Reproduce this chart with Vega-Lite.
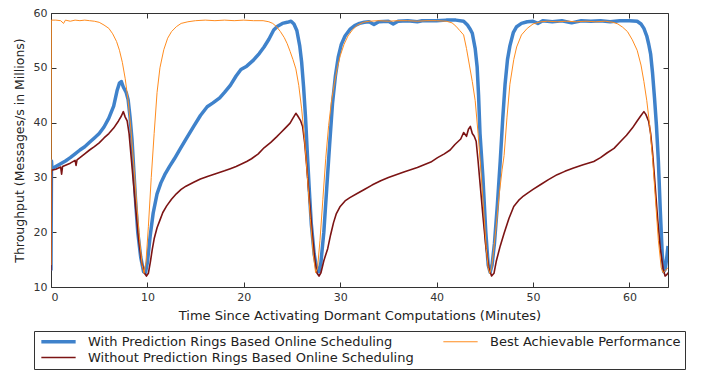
{
  "$schema": "https://vega.github.io/schema/vega-lite/v6.json",
  "width": 617,
  "height": 274,
  "autosize": {"type": "none"},
  "padding": {"left": 51, "top": 13, "right": 34, "bottom": 84},
  "background": "white",
  "config": {
    "view": {"stroke": null},
    "font": "DejaVu Sans",
    "axis": {
      "grid": false,
      "domainColor": "#333333",
      "tickColor": "#333333",
      "tickSize": -5,
      "labelColor": "#333333",
      "titleColor": "#222222",
      "labelFont": "DejaVu Sans",
      "titleFont": "DejaVu Sans",
      "labelFontSize": 11,
      "titleFontSize": 12.5,
      "titleFontWeight": "normal"
    }
  },
  "data": {"values": [
    {"s":"W","t":0,"v":13},{"s":"W","t":0.05,"v":33},{"s":"W","t":0.1,"v":31.5},{"s":"W","t":0.5,"v":32.0},{"s":"W","t":1.0,"v":32.5},{"s":"W","t":1.5,"v":33.0},{"s":"W","t":2.0,"v":33.6},{"s":"W","t":2.5,"v":34.3},{"s":"W","t":3.0,"v":35.0},{"s":"W","t":3.5,"v":35.6},{"s":"W","t":4.0,"v":36.4},{"s":"W","t":4.5,"v":37.2},{"s":"W","t":5.0,"v":38.0},{"s":"W","t":5.5,"v":39.2},{"s":"W","t":6.0,"v":40.8},{"s":"W","t":6.5,"v":43.0},{"s":"W","t":6.85,"v":45.8},{"s":"W","t":7.1,"v":47.2},{"s":"W","t":7.3,"v":47.5},{"s":"W","t":7.5,"v":46.5},{"s":"W","t":7.8,"v":45.5},{"s":"W","t":8.0,"v":44.2},{"s":"W","t":8.2,"v":41},{"s":"W","t":8.4,"v":37},{"s":"W","t":8.6,"v":31},{"s":"W","t":8.8,"v":25},{"s":"W","t":9.0,"v":20},{"s":"W","t":9.3,"v":15.5},{"s":"W","t":9.6,"v":12.8},{"s":"W","t":9.8,"v":12.6},{"s":"W","t":10.0,"v":14.5},{"s":"W","t":10.3,"v":19.5},{"s":"W","t":10.6,"v":23.5},{"s":"W","t":11.0,"v":27.0},{"s":"W","t":11.4,"v":29.0},{"s":"W","t":11.8,"v":30.5},{"s":"W","t":12.3,"v":32.0},{"s":"W","t":12.8,"v":33.4},{"s":"W","t":13.4,"v":35.2},{"s":"W","t":14.0,"v":37.0},{"s":"W","t":14.8,"v":39.3},{"s":"W","t":15.5,"v":41.3},{"s":"W","t":16.2,"v":42.9},{"s":"W","t":16.8,"v":43.6},{"s":"W","t":17.5,"v":44.5},{"s":"W","t":18.0,"v":45.5},{"s":"W","t":18.6,"v":46.8},{"s":"W","t":19.2,"v":48.5},{"s":"W","t":19.7,"v":49.7},{"s":"W","t":20.3,"v":50.3},{"s":"W","t":21.0,"v":51.4},{"s":"W","t":21.6,"v":52.6},{"s":"W","t":22.1,"v":53.8},{"s":"W","t":22.6,"v":55.2},{"s":"W","t":23.1,"v":56.9},{"s":"W","t":23.5,"v":57.6},{"s":"W","t":24.0,"v":58.1},{"s":"W","t":24.5,"v":58.3},{"s":"W","t":24.9,"v":58.5},{"s":"W","t":25.2,"v":58.0},{"s":"W","t":25.5,"v":56.8},{"s":"W","t":25.8,"v":54},{"s":"W","t":26.0,"v":51},{"s":"W","t":26.2,"v":46.5},{"s":"W","t":26.4,"v":41},{"s":"W","t":26.6,"v":34},{"s":"W","t":26.8,"v":27.5},{"s":"W","t":27.0,"v":21.5},{"s":"W","t":27.3,"v":16},{"s":"W","t":27.6,"v":13.0},{"s":"W","t":27.8,"v":12.8},{"s":"W","t":28.0,"v":14.5},{"s":"W","t":28.3,"v":20},{"s":"W","t":28.6,"v":28},{"s":"W","t":28.9,"v":36},{"s":"W","t":29.2,"v":43.5},{"s":"W","t":29.5,"v":48.5},{"s":"W","t":29.8,"v":52},{"s":"W","t":30.1,"v":54.2},{"s":"W","t":30.5,"v":55.8},{"s":"W","t":31.0,"v":57.0},{"s":"W","t":31.5,"v":57.7},{"s":"W","t":32.0,"v":58.1},{"s":"W","t":32.5,"v":58.3},{"s":"W","t":33,"v":58.4},{"s":"W","t":33.5,"v":57.9},{"s":"W","t":34,"v":58.4},{"s":"W","t":35,"v":58.5},{"s":"W","t":35.5,"v":58.0},{"s":"W","t":36,"v":58.5},{"s":"W","t":37,"v":58.6},{"s":"W","t":38,"v":58.4},{"s":"W","t":38.5,"v":58.6},{"s":"W","t":39,"v":58.6},{"s":"W","t":40,"v":58.6},{"s":"W","t":41,"v":58.7},{"s":"W","t":42,"v":58.7},{"s":"W","t":42.8,"v":58.5},{"s":"W","t":43.2,"v":57.8},{"s":"W","t":43.5,"v":57.0},{"s":"W","t":43.7,"v":56.3},{"s":"W","t":44.0,"v":53.5},{"s":"W","t":44.2,"v":50.2},{"s":"W","t":44.35,"v":45},{"s":"W","t":44.5,"v":38},{"s":"W","t":44.8,"v":30},{"s":"W","t":45.1,"v":20},{"s":"W","t":45.35,"v":14},{"s":"W","t":45.55,"v":12.7},{"s":"W","t":45.75,"v":14},{"s":"W","t":46.0,"v":18},{"s":"W","t":46.3,"v":25},{"s":"W","t":46.6,"v":33},{"s":"W","t":46.85,"v":40.5},{"s":"W","t":47.1,"v":47},{"s":"W","t":47.35,"v":51.5},{"s":"W","t":47.6,"v":54},{"s":"W","t":47.95,"v":56.4},{"s":"W","t":48.3,"v":57.5},{"s":"W","t":48.8,"v":58.1},{"s":"W","t":49.4,"v":58.4},{"s":"W","t":50,"v":58.5},{"s":"W","t":50.5,"v":58.1},{"s":"W","t":51,"v":58.6},{"s":"W","t":52,"v":58.4},{"s":"W","t":53,"v":58.6},{"s":"W","t":54,"v":58.2},{"s":"W","t":55,"v":58.6},{"s":"W","t":56,"v":58.5},{"s":"W","t":57,"v":58.6},{"s":"W","t":58,"v":58.4},{"s":"W","t":59,"v":58.6},{"s":"W","t":60,"v":58.6},{"s":"W","t":60.8,"v":58.5},{"s":"W","t":61.2,"v":58.0},{"s":"W","t":61.5,"v":57.2},{"s":"W","t":61.8,"v":55.8},{"s":"W","t":62.0,"v":54.3},{"s":"W","t":62.2,"v":52.5},{"s":"W","t":62.4,"v":49},{"s":"W","t":62.6,"v":44.5},{"s":"W","t":62.8,"v":39.5},{"s":"W","t":63.0,"v":33},{"s":"W","t":63.2,"v":24},{"s":"W","t":63.4,"v":16},{"s":"W","t":63.55,"v":12.8},{"s":"W","t":63.7,"v":13.2},{"s":"W","t":63.85,"v":15},{"s":"W","t":64.0,"v":17.5},

    {"s":"O","t":0,"v":13},{"s":"O","t":0.05,"v":31.3},{"s":"O","t":0.5,"v":31.5},{"s":"O","t":1.0,"v":31.9},{"s":"O","t":1.1,"v":30.6},{"s":"O","t":1.2,"v":32.0},{"s":"O","t":2.0,"v":32.6},{"s":"O","t":2.5,"v":33.1},{"s":"O","t":2.6,"v":32.2},{"s":"O","t":2.7,"v":33.2},{"s":"O","t":3.0,"v":33.6},{"s":"O","t":3.5,"v":34.3},{"s":"O","t":4.0,"v":35.0},{"s":"O","t":4.5,"v":35.6},{"s":"O","t":5.0,"v":36.3},{"s":"O","t":5.5,"v":37.2},{"s":"O","t":6.0,"v":38.0},{"s":"O","t":6.5,"v":39.0},{"s":"O","t":7.0,"v":40.3},{"s":"O","t":7.3,"v":41.2},{"s":"O","t":7.5,"v":42.0},{"s":"O","t":7.7,"v":41.0},{"s":"O","t":7.9,"v":40.3},{"s":"O","t":8.1,"v":38},{"s":"O","t":8.3,"v":34},{"s":"O","t":8.5,"v":30},{"s":"O","t":8.8,"v":24},{"s":"O","t":9.1,"v":18.5},{"s":"O","t":9.4,"v":14.5},{"s":"O","t":9.7,"v":12.5},{"s":"O","t":9.9,"v":12.0},{"s":"O","t":10.1,"v":12.5},{"s":"O","t":10.3,"v":14.5},{"s":"O","t":10.5,"v":16.8},{"s":"O","t":10.7,"v":18.8},{"s":"O","t":11.0,"v":20.8},{"s":"O","t":11.3,"v":22.2},{"s":"O","t":11.6,"v":23.6},{"s":"O","t":12.0,"v":24.8},{"s":"O","t":12.5,"v":26.0},{"s":"O","t":13.0,"v":27.0},{"s":"O","t":13.5,"v":27.8},{"s":"O","t":14.0,"v":28.4},{"s":"O","t":14.8,"v":29.1},{"s":"O","t":15.5,"v":29.7},{"s":"O","t":16.3,"v":30.2},{"s":"O","t":17.0,"v":30.6},{"s":"O","t":18.0,"v":31.2},{"s":"O","t":18.6,"v":31.6},{"s":"O","t":19.2,"v":32.0},{"s":"O","t":19.7,"v":32.4},{"s":"O","t":20.3,"v":32.9},{"s":"O","t":20.8,"v":33.4},{"s":"O","t":21.5,"v":34.3},{"s":"O","t":22.1,"v":35.4},{"s":"O","t":22.8,"v":36.4},{"s":"O","t":23.4,"v":37.4},{"s":"O","t":23.8,"v":38.1},{"s":"O","t":24.3,"v":39.0},{"s":"O","t":24.8,"v":39.9},{"s":"O","t":25.1,"v":40.8},{"s":"O","t":25.4,"v":41.7},{"s":"O","t":25.6,"v":41.2},{"s":"O","t":25.9,"v":40.3},{"s":"O","t":26.1,"v":39.3},{"s":"O","t":26.3,"v":36.5},{"s":"O","t":26.5,"v":32.5},{"s":"O","t":26.8,"v":26},{"s":"O","t":27.1,"v":19.5},{"s":"O","t":27.4,"v":14.5},{"s":"O","t":27.6,"v":12.5},{"s":"O","t":27.8,"v":12.0},{"s":"O","t":28.0,"v":12.6},{"s":"O","t":28.3,"v":14.8},{"s":"O","t":28.7,"v":17},{"s":"O","t":29.0,"v":19.5},{"s":"O","t":29.3,"v":21.7},{"s":"O","t":29.6,"v":23.4},{"s":"O","t":30.0,"v":24.7},{"s":"O","t":30.5,"v":25.7},{"s":"O","t":31.0,"v":26.3},{"s":"O","t":31.8,"v":27.1},{"s":"O","t":32.5,"v":27.8},{"s":"O","t":33.3,"v":28.6},{"s":"O","t":34.2,"v":29.4},{"s":"O","t":35.0,"v":30.0},{"s":"O","t":35.8,"v":30.5},{"s":"O","t":36.6,"v":31.0},{"s":"O","t":37.3,"v":31.4},{"s":"O","t":38.0,"v":31.8},{"s":"O","t":38.7,"v":32.3},{"s":"O","t":39.4,"v":32.8},{"s":"O","t":40.1,"v":33.6},{"s":"O","t":40.8,"v":34.3},{"s":"O","t":41.4,"v":35.0},{"s":"O","t":41.9,"v":36.0},{"s":"O","t":42.5,"v":37.0},{"s":"O","t":42.8,"v":38.2},{"s":"O","t":43.1,"v":37.5},{"s":"O","t":43.3,"v":38.8},{"s":"O","t":43.5,"v":39.3},{"s":"O","t":43.7,"v":38.0},{"s":"O","t":43.9,"v":37.5},{"s":"O","t":44.1,"v":36.6},{"s":"O","t":44.3,"v":33},{"s":"O","t":44.5,"v":29},{"s":"O","t":44.8,"v":23},{"s":"O","t":45.1,"v":17.5},{"s":"O","t":45.4,"v":13.5},{"s":"O","t":45.7,"v":12.0},{"s":"O","t":45.95,"v":12.5},{"s":"O","t":46.2,"v":14.8},{"s":"O","t":46.6,"v":17.5},{"s":"O","t":47.0,"v":19.8},{"s":"O","t":47.5,"v":22.5},{"s":"O","t":48.0,"v":24.7},{"s":"O","t":48.5,"v":25.8},{"s":"O","t":49.0,"v":26.6},{"s":"O","t":49.4,"v":27.1},{"s":"O","t":50.0,"v":27.8},{"s":"O","t":50.8,"v":28.7},{"s":"O","t":51.6,"v":29.6},{"s":"O","t":52.5,"v":30.5},{"s":"O","t":53.3,"v":31.1},{"s":"O","t":54.2,"v":31.7},{"s":"O","t":55.2,"v":32.3},{"s":"O","t":56.3,"v":32.9},{"s":"O","t":57.0,"v":33.6},{"s":"O","t":57.7,"v":34.5},{"s":"O","t":58.4,"v":35.3},{"s":"O","t":59.1,"v":36.6},{"s":"O","t":59.7,"v":37.7},{"s":"O","t":60.3,"v":39.0},{"s":"O","t":60.8,"v":40.3},{"s":"O","t":61.2,"v":41.3},{"s":"O","t":61.5,"v":42.0},{"s":"O","t":61.7,"v":41.5},{"s":"O","t":62.0,"v":40.2},{"s":"O","t":62.2,"v":38},{"s":"O","t":62.4,"v":34.5},{"s":"O","t":62.6,"v":30},{"s":"O","t":62.9,"v":23},{"s":"O","t":63.2,"v":17},{"s":"O","t":63.5,"v":13.3},{"s":"O","t":63.7,"v":12.0},{"s":"O","t":63.9,"v":12.3},{"s":"O","t":64.0,"v":12.6},

    {"s":"B","t":0,"v":14},{"s":"B","t":0.03,"v":58.7},{"s":"B","t":0.5,"v":58.7},{"s":"B","t":1,"v":58.6},{"s":"B","t":1.3,"v":58.1},{"s":"B","t":1.5,"v":58.7},{"s":"B","t":2,"v":58.5},{"s":"B","t":2.5,"v":58.7},{"s":"B","t":3,"v":58.6},{"s":"B","t":3.5,"v":58.7},{"s":"B","t":4,"v":58.6},{"s":"B","t":4.5,"v":58.5},{"s":"B","t":5.0,"v":58.3},{"s":"B","t":5.5,"v":57.8},{"s":"B","t":6.0,"v":57.2},{"s":"B","t":6.4,"v":56.2},{"s":"B","t":6.8,"v":54.8},{"s":"B","t":7.1,"v":53.2},{"s":"B","t":7.4,"v":51.0},{"s":"B","t":7.7,"v":48.0},{"s":"B","t":8.0,"v":44.0},{"s":"B","t":8.3,"v":38.5},{"s":"B","t":8.6,"v":32},{"s":"B","t":8.9,"v":25},{"s":"B","t":9.2,"v":18.5},{"s":"B","t":9.45,"v":14},{"s":"B","t":9.65,"v":12.5},{"s":"B","t":9.85,"v":14.5},{"s":"B","t":10.1,"v":21},{"s":"B","t":10.4,"v":30},{"s":"B","t":10.7,"v":38},{"s":"B","t":11.0,"v":45.5},{"s":"B","t":11.3,"v":50},{"s":"B","t":11.7,"v":53.3},{"s":"B","t":12.1,"v":55.4},{"s":"B","t":12.5,"v":56.6},{"s":"B","t":13.0,"v":57.5},{"s":"B","t":13.5,"v":58.1},{"s":"B","t":14.2,"v":58.4},{"s":"B","t":15,"v":58.6},{"s":"B","t":16,"v":58.7},{"s":"B","t":17,"v":58.6},{"s":"B","t":18,"v":58.7},{"s":"B","t":19,"v":58.6},{"s":"B","t":20,"v":58.7},{"s":"B","t":21,"v":58.6},{"s":"B","t":22,"v":58.6},{"s":"B","t":22.6,"v":58.4},{"s":"B","t":23.0,"v":58.1},{"s":"B","t":23.4,"v":57.5},{"s":"B","t":23.8,"v":56.6},{"s":"B","t":24.2,"v":55.5},{"s":"B","t":24.5,"v":54.4},{"s":"B","t":24.8,"v":53},{"s":"B","t":25.1,"v":51.5},{"s":"B","t":25.4,"v":49.8},{"s":"B","t":25.7,"v":46.8},{"s":"B","t":26.0,"v":42.5},{"s":"B","t":26.3,"v":37},{"s":"B","t":26.6,"v":30},{"s":"B","t":26.9,"v":22.5},{"s":"B","t":27.2,"v":16},{"s":"B","t":27.45,"v":12.6},{"s":"B","t":27.65,"v":13.5},{"s":"B","t":27.9,"v":18.5},{"s":"B","t":28.2,"v":26},{"s":"B","t":28.5,"v":33.5},{"s":"B","t":28.8,"v":39.5},{"s":"B","t":29.1,"v":44},{"s":"B","t":29.4,"v":47.2},{"s":"B","t":29.7,"v":50},{"s":"B","t":30.0,"v":52.2},{"s":"B","t":30.4,"v":54.3},{"s":"B","t":30.8,"v":55.8},{"s":"B","t":31.3,"v":57.0},{"s":"B","t":31.8,"v":57.8},{"s":"B","t":32.4,"v":58.3},{"s":"B","t":33,"v":58.5},{"s":"B","t":34,"v":58.6},{"s":"B","t":35,"v":58.5},{"s":"B","t":36,"v":58.6},{"s":"B","t":37,"v":58.6},{"s":"B","t":38,"v":58.5},{"s":"B","t":39,"v":58.6},{"s":"B","t":40,"v":58.6},{"s":"B","t":41,"v":58.5},{"s":"B","t":41.6,"v":58.2},{"s":"B","t":42.0,"v":57.6},{"s":"B","t":42.4,"v":56.8},{"s":"B","t":42.8,"v":56.0},{"s":"B","t":43.1,"v":53.5},{"s":"B","t":43.4,"v":50.5},{"s":"B","t":43.7,"v":47.5},{"s":"B","t":44.0,"v":44.0},{"s":"B","t":44.3,"v":38},{"s":"B","t":44.6,"v":31},{"s":"B","t":44.9,"v":23.5},{"s":"B","t":45.15,"v":17},{"s":"B","t":45.35,"v":13.5},{"s":"B","t":45.5,"v":12.5},{"s":"B","t":45.7,"v":13.5},{"s":"B","t":45.9,"v":16.5},{"s":"B","t":46.2,"v":21.5},{"s":"B","t":46.5,"v":27},{"s":"B","t":46.8,"v":31.5},{"s":"B","t":47.0,"v":34},{"s":"B","t":47.3,"v":41},{"s":"B","t":47.6,"v":47},{"s":"B","t":48.0,"v":51.5},{"s":"B","t":48.3,"v":53.8},{"s":"B","t":48.8,"v":56.0},{"s":"B","t":49.4,"v":57.2},{"s":"B","t":50.0,"v":58.0},{"s":"B","t":50.8,"v":58.4},{"s":"B","t":51.5,"v":58.5},{"s":"B","t":52.5,"v":58.4},{"s":"B","t":53.5,"v":58.5},{"s":"B","t":54.5,"v":58.4},{"s":"B","t":55.5,"v":58.5},{"s":"B","t":56.5,"v":58.4},{"s":"B","t":57.5,"v":58.5},{"s":"B","t":58.3,"v":58.3},{"s":"B","t":58.8,"v":58.0},{"s":"B","t":59.3,"v":57.4},{"s":"B","t":59.8,"v":56.6},{"s":"B","t":60.3,"v":55.1},{"s":"B","t":60.8,"v":53.2},{"s":"B","t":61.2,"v":50.5},{"s":"B","t":61.5,"v":47.5},{"s":"B","t":61.8,"v":44},{"s":"B","t":62.1,"v":39.5},{"s":"B","t":62.4,"v":33.5},{"s":"B","t":62.7,"v":26},{"s":"B","t":63.0,"v":18.5},{"s":"B","t":63.3,"v":13.5},{"s":"B","t":63.5,"v":12.6},{"s":"B","t":63.7,"v":13},{"s":"B","t":64.0,"v":13.5}
  ]},
  "layer": [
    {
      "transform": [{"filter": "datum.s == 'B'"}],
      "mark": {"type": "line", "opacity": 0},
      "encoding": {
        "x": {"field": "t", "type": "quantitative", "scale": {"domain": [0, 64], "nice": false, "zero": false}, "axis": {"orient": "top", "title": null, "labels": false, "domain": true, "ticks": true, "values": [0,10,20,30,40,50,60]}},
        "y": {"field": "v", "type": "quantitative", "scale": {"domain": [10, 60], "nice": false, "zero": false}, "axis": {"orient": "right", "title": null, "labels": false, "domain": true, "ticks": true, "values": [10,20,30,40,50,60]}}
      }
    },
    {
      "transform": [{"filter": "datum.s == 'W'"}],
      "mark": {"type": "line", "strokeJoin": "round", "clip": true, "strokeWidth": 3.5},
      "encoding": {
        "x": {"field": "t", "type": "quantitative", "axis": {"orient": "bottom", "title": "Time Since Activating Dormant Computations (Minutes)", "values": [0,10,20,30,40,50,60], "labelPadding": 9, "titlePadding": 7, "titleFontSize": 13}},
        "y": {"field": "v", "type": "quantitative", "axis": {"orient": "left", "title": "Throughput (Messages/s in Millions)", "values": [10,20,30,40,50,60], "labelPadding": 9, "titlePadding": 7}},
        "color": {"field": "s", "type": "nominal", "scale": {"domain": ["W", "B", "O"], "range": ["#3f82cb", "#ff8c1f", "#7c1414"]},
          "legend": {"orient": "none", "legendX": -17, "legendY": 318, "columns": 2, "direction": "horizontal", "title": null,
            "labelExpr": "datum.label == 'W' ? 'With Prediction Rings Based Online Scheduling' : datum.label == 'B' ? 'Best Achievable Performance' : 'Without Prediction Rings Based Online Scheduling'",
            "symbolType": "M-2.45,0H2.45", "symbolSize": 196, "symbolOffset": 14, "labelOffset": 23, "labelLimit": 500,
            "labelFontSize": 13, "labelFont": "DejaVu Sans", "labelColor": "#222222",
            "strokeColor": "#333333", "padding": 4, "rowPadding": 2, "columnPadding": 26, "symbolOpacity": 1,
            "encode": {"symbols": {"update": {"strokeWidth": {"signal": "datum.value == 'W' ? 3.5 : datum.value == 'O' ? 1.6 : 1"}}}}}}
      }
    },
    {
      "transform": [{"filter": "datum.s == 'O'"}],
      "mark": {"type": "line", "strokeJoin": "round", "clip": true, "strokeWidth": 1.6},
      "encoding": {
        "x": {"field": "t", "type": "quantitative", "axis": null},
        "y": {"field": "v", "type": "quantitative", "axis": null},
        "color": {"field": "s", "type": "nominal"}
      }
    },
    {
      "transform": [{"filter": "datum.s == 'B'"}],
      "mark": {"type": "line", "strokeJoin": "round", "clip": true, "strokeWidth": 1},
      "encoding": {
        "x": {"field": "t", "type": "quantitative", "axis": null},
        "y": {"field": "v", "type": "quantitative", "axis": null},
        "color": {"field": "s", "type": "nominal"}
      }
    }
  ],
  "resolve": {"axis": {"x": "independent", "y": "independent"}}
}
